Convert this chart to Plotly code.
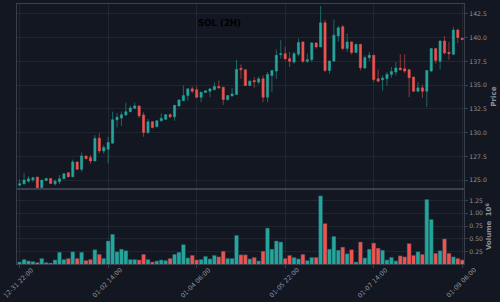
import plotly.graph_objects as go
from plotly.subplots import make_subplots

opens = [124.47, 124.61, 124.89, 125.04, 125.32, 124.19, 124.96, 125.18, 124.61, 124.82,
         125.14, 125.78, 125.35, 126.91, 126.13, 127.54, 127.37, 127.01, 129.42, 128.07,
         128.25, 128.89, 131.36, 131.54, 131.86, 132.21, 132.56, 132.81, 131.86, 130.02,
         131.15, 130.62, 131.25, 131.40, 131.89, 131.68, 132.81, 133.37, 133.90, 134.61,
         134.51, 133.73, 134.22, 134.36, 134.51, 134.86, 134.79, 133.48, 133.87, 134.01,
         136.77, 136.63, 134.96, 135.49, 135.32, 135.67, 133.73, 136.02, 136.48, 138.22,
         138.32, 137.79, 137.44, 138.25, 139.56, 137.51, 137.69, 139.45, 139.03, 141.57,
         136.55, 137.54, 140.19, 141.15, 138.85, 139.56, 138.43, 139.31, 136.80, 137.90,
         138.15, 135.67, 135.57, 135.67, 136.13, 136.38, 136.80, 136.73, 136.63, 135.85,
         134.36, 134.72, 134.36, 136.48, 138.85, 137.51, 139.66, 138.46, 138.25, 140.80,
         139.95]
highs = [125.07, 125.78, 125.42, 125.35, 125.32, 125.00, 125.20, 125.20, 125.07, 125.53,
         125.70, 125.80, 127.16, 126.95, 127.90, 127.60, 127.65, 129.73, 129.95, 128.71,
         129.56, 132.21, 132.03, 132.21, 133.16, 132.84, 133.16, 132.85, 132.14, 131.43,
         131.20, 131.30, 132.03, 131.95, 132.03, 132.90, 133.50, 134.96, 134.65, 134.86,
         134.86, 134.30, 134.45, 134.65, 135.32, 135.49, 134.80, 133.95, 134.72, 137.69,
         137.19, 136.65, 135.50, 135.85, 135.92, 136.02, 136.38, 136.60, 138.75, 139.73,
         139.03, 138.50, 138.50, 139.91, 139.60, 138.32, 139.56, 139.50, 143.34, 141.86,
         137.60, 141.93, 141.25, 141.33, 140.44, 139.60, 139.35, 139.35, 138.15, 138.50,
         138.20, 136.66, 136.02, 136.38, 136.91, 137.44, 138.25, 138.25, 136.70, 135.90,
         135.32, 135.04, 136.60, 138.90, 138.90, 139.70, 140.16, 139.56, 141.15, 140.97,
         139.97]
lows = [124.36, 124.55, 124.72, 124.79, 124.19, 124.19, 124.90, 124.60, 124.43, 124.58,
        125.10, 125.30, 125.30, 126.10, 125.88, 127.20, 126.73, 127.00, 127.79, 127.79,
        126.77, 128.85, 130.55, 130.72, 131.78, 132.14, 132.46, 131.54, 129.56, 129.84,
        130.45, 130.60, 131.15, 131.35, 131.54, 131.25, 132.74, 133.35, 133.37, 134.15,
        133.62, 133.20, 134.20, 133.73, 134.50, 134.61, 132.92, 133.37, 133.80, 134.00,
        135.67, 134.90, 134.90, 134.72, 135.14, 133.20, 133.20, 134.26, 135.67, 137.79,
        137.61, 136.91, 137.26, 138.04, 137.33, 137.33, 137.44, 138.85, 139.00, 136.38,
        136.20, 137.44, 139.56, 138.67, 138.50, 138.22, 138.40, 136.55, 136.73, 137.54,
        135.32, 135.32, 134.43, 134.96, 135.78, 136.02, 136.55, 136.27, 133.73, 134.30,
        134.26, 133.66, 132.67, 136.38, 137.26, 136.66, 138.25, 137.69, 138.15, 139.45,
        139.78]
closes = [124.61, 125.00, 125.14, 125.25, 124.19, 125.00, 125.18, 124.65, 124.89, 125.14,
          125.67, 125.35, 126.91, 126.13, 127.54, 127.26, 127.01, 129.38, 128.07, 128.43,
          128.96, 131.36, 131.61, 131.89, 132.21, 132.60, 132.81, 131.78, 130.02, 131.15,
          130.55, 131.25, 131.50, 131.89, 131.68, 132.88, 133.45, 133.90, 134.61, 134.36,
          133.73, 134.26, 134.40, 134.61, 134.86, 134.72, 133.48, 133.90, 134.08, 136.66,
          136.63, 134.96, 135.42, 135.35, 135.67, 133.73, 136.13, 136.55, 138.15, 138.32,
          137.79, 137.51, 138.32, 139.49, 137.51, 137.69, 139.45, 139.03, 141.57, 136.55,
          137.54, 140.27, 141.04, 138.85, 139.56, 138.43, 139.31, 136.84, 137.90, 138.15,
          135.60, 135.42, 135.74, 136.13, 136.45, 136.80, 136.63, 136.48, 135.78, 134.36,
          134.72, 134.36, 136.55, 138.85, 137.61, 139.66, 138.39, 138.32, 140.80, 140.02,
          139.81]
volumes = [0.05, 0.10, 0.07, 0.06, 0.04, 0.12, 0.04, 0.03, 0.09, 0.24,
           0.10, 0.12, 0.25, 0.12, 0.24, 0.08, 0.10, 0.29, 0.20, 0.12,
           0.46, 0.59, 0.25, 0.30, 0.27, 0.10, 0.10, 0.09, 0.20, 0.10,
           0.05, 0.07, 0.09, 0.08, 0.12, 0.20, 0.24, 0.39, 0.13, 0.18,
           0.09, 0.10, 0.16, 0.11, 0.18, 0.15, 0.26, 0.12, 0.12, 0.57,
           0.19, 0.19, 0.11, 0.14, 0.07, 0.26, 0.71, 0.30, 0.46, 0.44,
           0.12, 0.18, 0.14, 0.11, 0.20, 0.08, 0.14, 0.14, 1.34, 0.80,
           0.30, 0.55, 0.28, 0.34, 0.21, 0.29, 0.05, 0.44, 0.13, 0.30,
           0.42, 0.32, 0.28, 0.09, 0.14, 0.07, 0.17, 0.15, 0.41, 0.18,
           0.25, 0.20, 1.27, 0.88, 0.22, 0.27, 0.50, 0.22, 0.15, 0.12,
           0.09]
tick_labels = ["12-31 22:00", "01-02 14:00", "01-04 06:00", "01-05 22:00", "01-07 14:00", "01-09 06:00"]
tick_index = [0, 20, 40, 60, 80, 100]
price_ticks = [125.0, 127.5, 130.0, 132.5, 135.0, 137.5, 140.0, 142.5]
vol_ticks = [0.25, 0.5, 0.75, 1.0, 1.25]

UP = "#26a69a"
DOWN = "#ef5350"
BG = "#131722"
GRID = "rgba(120,130,150,0.13)"
AXLINE = "#3a3f4c"
TXT = "#8b909a"
FONT = "DejaVu Sans"

x = list(range(len(closes)))
vcolors = [UP if c >= o else DOWN for o, c in zip(opens, closes)]

fig = make_subplots(rows=2, cols=1, shared_xaxes=True, vertical_spacing=0.0,
                    row_heights=[0.712, 0.288])

fig.add_trace(go.Candlestick(
    x=x, open=opens, high=highs, low=lows, close=closes,
    increasing=dict(line=dict(color="rgba(38,166,154,0.55)", width=1), fillcolor=UP),
    decreasing=dict(line=dict(color="rgba(239,83,80,0.55)", width=1), fillcolor=DOWN),
    whiskerwidth=0, showlegend=False, hoverinfo="skip"), row=1, col=1)

fig.add_trace(go.Bar(
    x=x, y=volumes, marker=dict(color=vcolors, line=dict(color="rgba(30,60,80,0.8)", width=0.6)),
    showlegend=False, hoverinfo="skip"), row=2, col=1)

xr = [-0.6, 100.4]
fig.update_xaxes(range=xr, showgrid=True, gridcolor=GRID, gridwidth=1,
                 tickvals=tick_index, ticktext=tick_labels, automargin=False,
                 showline=True, linecolor=AXLINE, linewidth=1, mirror=True,
                 zeroline=False, rangeslider=dict(visible=False), showticklabels=False)
fig.update_xaxes(ticks="", row=1, col=1)
fig.update_xaxes(ticks="outside", ticklen=3, tickcolor=AXLINE, row=2, col=1)

fig.update_yaxes(side="right", showgrid=True, gridcolor=GRID, zeroline=False,
                 showline=True, linecolor=AXLINE, linewidth=1, mirror=True, automargin=False,
                 ticks="outside", ticklen=3, tickcolor=AXLINE,
                 tickfont=dict(family=FONT, size=6.2, color=TXT))
fig.update_yaxes(range=[124.05, 143.55], tickvals=price_ticks, tickformat=".1f",
                 title=dict(text="<b>Price</b>", font=dict(family=FONT, size=7.2, color=TXT), standoff=4),
                 row=1, col=1)
fig.update_yaxes(range=[0.01, 1.47], tickvals=vol_ticks, tickformat=".2f",
                 title=dict(text="<b>Volume</b>  <b>10<sup>6</sup></b>", font=dict(family=FONT, size=7, color=TXT), standoff=4),
                 row=2, col=1)

# x tick labels centred under ticks, rotated 45 degrees (as in the reference)
xlabels = [dict(text=t, x=v - 0.25, xref="x2", yref="paper", y=-0.073,
                xanchor="center", yanchor="middle", textangle=-45, showarrow=False,
                font=dict(family=FONT, size=6.4, color=TXT))
           for v, t in zip(tick_index, tick_labels)]

fig.update_layout(
    width=500, height=302,
    margin=dict(l=17, r=36, t=4, b=38),
    paper_bgcolor=BG, plot_bgcolor=BG,
    bargap=0.08,
    annotations=list(fig.layout.annotations) + xlabels + [dict(
        text="<b>SOL (2H)</b>", xref="paper", yref="paper", x=0.453, y=0.927,
        xanchor="center", yanchor="middle",
        showarrow=False, font=dict(family=FONT, size=8.6, color="#000000"))],
)

fig.write_html("out.html")
